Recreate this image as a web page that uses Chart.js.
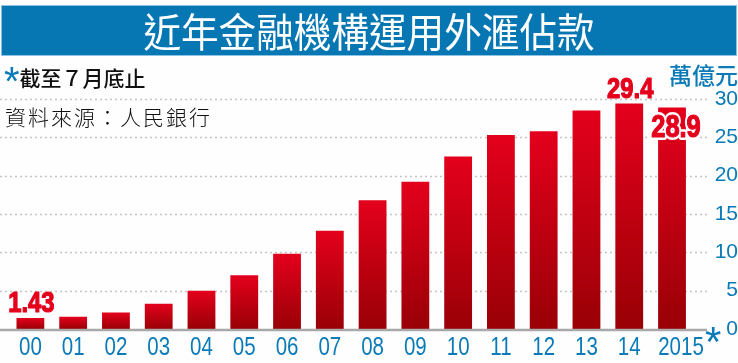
<!DOCTYPE html>
<html>
<head>
<meta charset="utf-8">
<script src="https://cdn.jsdelivr.net/npm/chart.js@4"></script>
<style>
  html, body { margin: 0; padding: 0; background: #fdfefd; }
  #wrap { position: relative; width: 738px; height: 363px; overflow: hidden; }
  #c { position: absolute; left: 0; top: 0; }
  .title {
    position: absolute; left: 1px; top: 5px; width: 734px; height: 49px;
    background: #0677b3; border: 1px solid #8cc3e2;
    color: #fff; text-align: center;
    font: 400 40px "Noto Sans CJK TC", sans-serif; line-height: 49px;
  }
  .title span { display: inline-block; transform: scaleX(0.94); }
  .note { position: absolute; left: 4px; top: 62px; font: 500 21px "Noto Sans CJK TC", sans-serif; color: #111; }
  .note b { color: #0a7ab8; font: 400 40px "Liberation Sans", sans-serif; vertical-align: -9px; line-height: 20px; }
  .src { position: absolute; left: 5px; top: 101px; font: 300 21px "Noto Sans CJK TC", serif; color: #111; letter-spacing: 2px; }
  .unit { position: absolute; right: 0; top: 57px; font: 500 23px "Noto Sans CJK TC", sans-serif; color: #0a7ab8; }
</style>
</head>
<body>
<div id="wrap">
  <canvas id="c" width="738" height="363"></canvas>
  <div class="title"><span>近年金融機構運用外滙佔款</span></div>
  <div class="note"><b>*</b>截至７月底止</div>
  <div class="src">資料來源：人民銀行</div>
  <div class="unit">萬億元</div>
</div>
<script>
// --- データ ---
const years  = ['00','01','02','03','04','05','06','07','08','09','10','11','12','13','14','2015'];
const values = [1.43, 1.6, 2.15, 3.3, 5.0, 7.0, 9.8, 12.8, 16.8, 19.2, 22.5, 25.3, 25.8, 28.5, 29.4, 28.9];
const valueLabels = ['1.43','','','','','','','','','','','','','','29.4','28.9'];
const yTicks = [0, 5, 10, 15, 20, 25, 30];

const BLUE = '#0a7ab8';
const RED  = '#e5001c';
const SANS = '"Liberation Sans", Arial, sans-serif';
const SQUEEZE = 0.82;   // 長体（横を詰める）

// 横に詰めた文字を描く（outline: 白フチ, heavy: 太らせる）
function narrowText(ctx, txt, x, y, outline, heavy) {
  ctx.save();
  ctx.translate(x, y);
  ctx.scale(SQUEEZE, 1);
  ctx.lineJoin = 'round';
  if (outline) {
    ctx.lineWidth = 6;
    ctx.strokeStyle = '#fff';
    ctx.strokeText(txt, 0, 0);
  }
  if (heavy) {
    ctx.lineWidth = 1.2;
    ctx.strokeStyle = ctx.fillStyle;
    ctx.strokeText(txt, 0, 0);
  }
  ctx.fillText(txt, 0, 0);
  ctx.restore();
}

// --- 点線グリッド・基線・ラベル ---
const gridPlugin = {
  id: 'dotGrid',
  beforeDatasetsDraw(chart) {
    const { ctx, scales: { y } } = chart;
    ctx.save();
    ctx.strokeStyle = '#c4c4c4';
    ctx.lineWidth = 1.5;
    ctx.setLineDash([2, 3]);
    yTicks.filter(v => v > 0).forEach(v => {
      const py = Math.round(y.getPixelForValue(v)) + 0.5;
      ctx.beginPath();
      ctx.moveTo(0, py);
      ctx.lineTo(708, py);
      ctx.stroke();
    });
    ctx.restore();
  },
  afterDatasetsDraw(chart) {
    const { ctx, scales: { x, y } } = chart;
    ctx.save();
    ctx.strokeStyle = '#a9a9a9';
    ctx.lineWidth = 2.5;
    const py = y.getPixelForValue(0) + 1;
    ctx.beginPath();
    ctx.moveTo(0, py);
    ctx.lineTo(707, py);
    ctx.stroke();

    // 数値ラベル
    const meta = chart.getDatasetMeta(0);
    ctx.textAlign = 'center';
    ctx.textBaseline = 'alphabetic';
    meta.data.forEach((bar, i) => {
      const txt = valueLabels[i];
      if (!txt) return;
      ctx.fillStyle = RED;
      if (i === values.length - 1) {
        ctx.font = 'bold 31px ' + SANS;
        narrowText(ctx, txt, bar.x + 4, bar.y + 30, true, true);
      } else {
        ctx.font = 'bold 29px ' + SANS;
        narrowText(ctx, txt, bar.x + 1, bar.y - 6, false, true);
      }
    });

    // 年ラベル
    ctx.font = '25px ' + SANS;
    ctx.fillStyle = BLUE;
    const last = years.length - 1;
    years.forEach((lab, i) => {
      const px = x.getPixelForValue(i) + (i === last ? 9 : 0);
      narrowText(ctx, lab, px, 355);
    });
    // 2015 の注記
    ctx.font = '42px ' + SANS;
    ctx.textAlign = 'left';
    ctx.fillText('*', x.getPixelForValue(last) + 33, 356);
    ctx.restore();
  }
};

new Chart(document.getElementById('c'), {
  type: 'bar',
  data: {
    labels: years,
    datasets: [{
      data: values,
      categoryPercentage: 1,
      barPercentage: 0.65,
      backgroundColor: (c) => {
        const chart = c.chart;
        const ys = chart.scales.y;
        if (!ys || c.parsed == null) return RED;
        const top = ys.getPixelForValue(c.parsed.y);
        const base = ys.getPixelForValue(0);
        if (!isFinite(top) || !isFinite(base) || top === base) return RED;
        const g = chart.ctx.createLinearGradient(0, top, 0, base);
        g.addColorStop(0, '#e4001c');
        g.addColorStop(1, '#990006');
        return g;
      }
    }]
  },
  options: {
    responsive: false,
    animation: false,
    layout: { padding: { top: 99, left: 9, right: 0, bottom: 0 } },
    plugins: { legend: { display: false }, tooltip: { enabled: false } },
    scales: {
      x: {
        grid: { display: false },
        border: { display: false },
        ticks: { display: false },
        afterFit: s => { s.height = 34; }
      },
      y: {
        position: 'right',
        min: 0,
        max: 30,
        grid: { display: false },
        border: { display: false },
        ticks: {
          stepSize: 5,
          color: BLUE,
          crossAlign: 'far',
          padding: 0,
          font: { family: SANS, size: 21 }
        },
        afterFit: s => { s.width = 44.6; }
      }
    }
  },
  plugins: [gridPlugin]
});
</script>
</body>
</html>
